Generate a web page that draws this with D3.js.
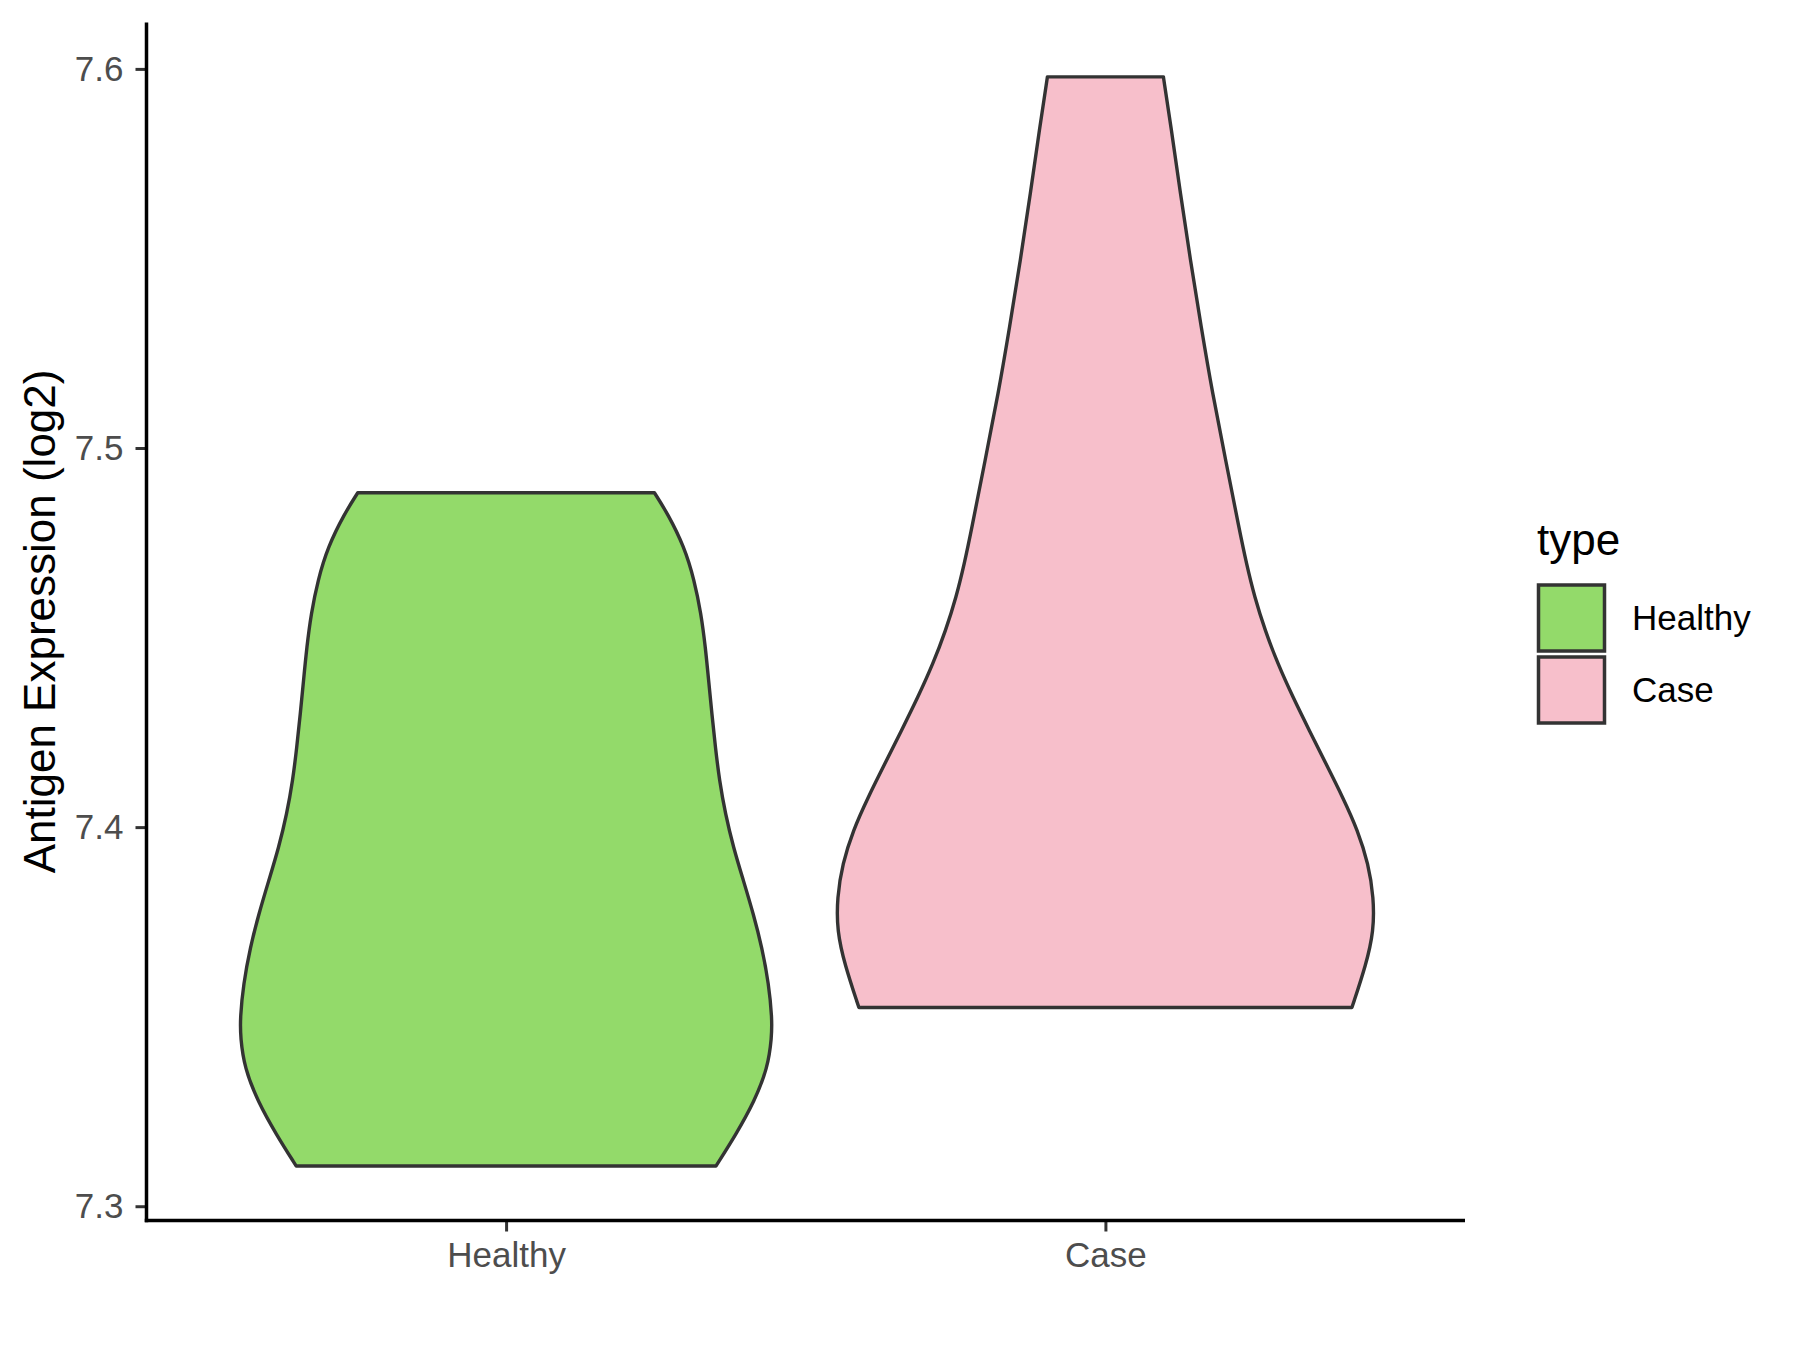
<!DOCTYPE html>
<html>
<head>
<meta charset="utf-8">
<script src="https://cdn.jsdelivr.net/npm/d3@7"></script>
<style>
  html, body { margin: 0; padding: 0; background: #ffffff; }
  svg { display: block; }
</style>
</head>
<body>
<svg id="chart" width="1800" height="1350"></svg>
<script>
// ---- data ----
const categories = ["Healthy", "Case"];
const legendTitle = "type";
const yLabel = "Antigen Expression (log2)";
const yTicks = [7.3, 7.4, 7.5, 7.6];

// violin outline: expression values and scaled half-width (fraction of max violin width)
const healthyValues = [7.4882, 7.4827, 7.4739, 7.4651, 7.4563, 7.4475, 7.4387, 7.4299, 7.4211, 7.4123, 7.4035, 7.3946, 7.3859, 7.3771, 7.3682, 7.3586, 7.3497, 7.3445, 7.3365, 7.3277, 7.3189, 7.3106];
const healthyWidth  = [0.550, 0.599, 0.661, 0.698, 0.723, 0.739, 0.751, 0.763, 0.776, 0.791, 0.813, 0.843, 0.880, 0.917, 0.949, 0.974, 0.986, 0.985, 0.970, 0.921, 0.852, 0.778];

const caseValues = [7.5979, 7.5848, 7.5672, 7.5496, 7.5320, 7.5144, 7.4968, 7.4783, 7.4695, 7.4607, 7.4519, 7.4431, 7.4343, 7.4255, 7.4167, 7.4079, 7.3991, 7.3903, 7.3814, 7.3726, 7.3638, 7.3524];
const caseWidth  = [0.215, 0.243, 0.278, 0.315, 0.355, 0.397, 0.446, 0.497, 0.523, 0.553, 0.592, 0.639, 0.695, 0.756, 0.818, 0.880, 0.936, 0.975, 0.995, 0.995, 0.967, 0.914];

const fillColors = ["#93DA6A", "#F7BFCB"];

// ---- layout ----
const svg = d3.select("#chart");
const panel = { left: 146.5, right: 1465, top: 22.4, bottom: 1220.5 };
const font = "'Liberation Sans', Arial, Helvetica, sans-serif";

const groups = [
  { name: categories[0], values: healthyValues, width: healthyWidth, fill: fillColors[0] },
  { name: categories[1], values: caseValues, width: caseWidth, fill: fillColors[1] }
];

// y scale: data extent with 5% expansion (ggplot default)
const allVals = healthyValues.concat(caseValues);
const ext = d3.extent(allVals);
const pad = (ext[1] - ext[0]) * 0.05;
const y = d3.scaleLinear().domain([ext[0] - pad, ext[1] + pad]).range([panel.bottom, panel.top]);

// x scale: discrete with 0.6 expansion each side
const xc = d3.scaleLinear().domain([0.4, categories.length + 0.6]).range([panel.left, panel.right]);
const unit = xc(2) - xc(1);
const halfMax = 0.45 * unit;

// ---- violins ----
groups.forEach((g, i) => {
  const cx = xc(i + 1);
  const pts = g.values.map((v, k) => ({ v: v, w: g.width[k] })).sort((a, b) => a.v - b.v);
  const area = d3.area()
    .y(d => y(d.v))
    .x0(d => cx - d.w * halfMax)
    .x1(d => cx + d.w * halfMax)
    .curve(d3.curveBasis);
  svg.append("path")
    .attr("d", area(pts))
    .attr("fill", g.fill)
    .attr("stroke", "#333333")
    .attr("stroke-width", 3.4)
    .attr("stroke-linejoin", "round");
});

// ---- axes ----
const yAxis = d3.axisLeft(y).tickValues(yTicks).tickFormat(d3.format(".1f")).tickSize(11).tickPadding(12);
const gy = svg.append("g").attr("transform", `translate(${panel.left},0)`).call(yAxis);
gy.select(".domain").remove();
gy.selectAll(".tick line").attr("stroke", "#333333").attr("stroke-width", 3);
gy.selectAll(".tick text").attr("fill", "#4D4D4D").style("font-family", font).style("font-size", "35px");

const xBand = d3.scalePoint().domain(categories).range([xc(1), xc(2)]);
const xAxis = d3.axisBottom(xBand).tickSize(11).tickPadding(11);
const gx = svg.append("g").attr("transform", `translate(0,${panel.bottom})`).call(xAxis);
gx.select(".domain").remove();
gx.selectAll(".tick line").attr("stroke", "#333333").attr("stroke-width", 3);
gx.selectAll(".tick text").attr("fill", "#4D4D4D").style("font-family", font).style("font-size", "35px");

// axis lines (theme_classic)
svg.append("line").attr("x1", panel.left).attr("x2", panel.left).attr("y1", panel.top).attr("y2", panel.bottom + 1.75)
  .attr("stroke", "#000").attr("stroke-width", 3.5);
svg.append("line").attr("x1", panel.left - 1.75).attr("x2", panel.right).attr("y1", panel.bottom).attr("y2", panel.bottom)
  .attr("stroke", "#000").attr("stroke-width", 3.5);

// y axis title
svg.append("text")
  .attr("transform", `translate(55,${(panel.top + panel.bottom) / 2}) rotate(-90)`)
  .attr("text-anchor", "middle")
  .style("font-family", font).style("font-size", "44px").attr("fill", "#000")
  .text(yLabel);

// ---- legend ----
const lg = svg.append("g");
lg.append("text").attr("x", 1537).attr("y", 555)
  .style("font-family", font).style("font-size", "44px").attr("fill", "#000").text(legendTitle);
groups.forEach((g, i) => {
  const ky = 585 + i * 72;
  lg.append("rect").attr("x", 1538.5).attr("y", ky).attr("width", 66).attr("height", 66)
    .attr("fill", g.fill).attr("stroke", "#333333").attr("stroke-width", 3.5);
  lg.append("text").attr("x", 1632).attr("y", ky + 33).attr("dy", "0.35em")
    .style("font-family", font).style("font-size", "35px").attr("fill", "#000").text(g.name);
});
</script>
</body>
</html>
